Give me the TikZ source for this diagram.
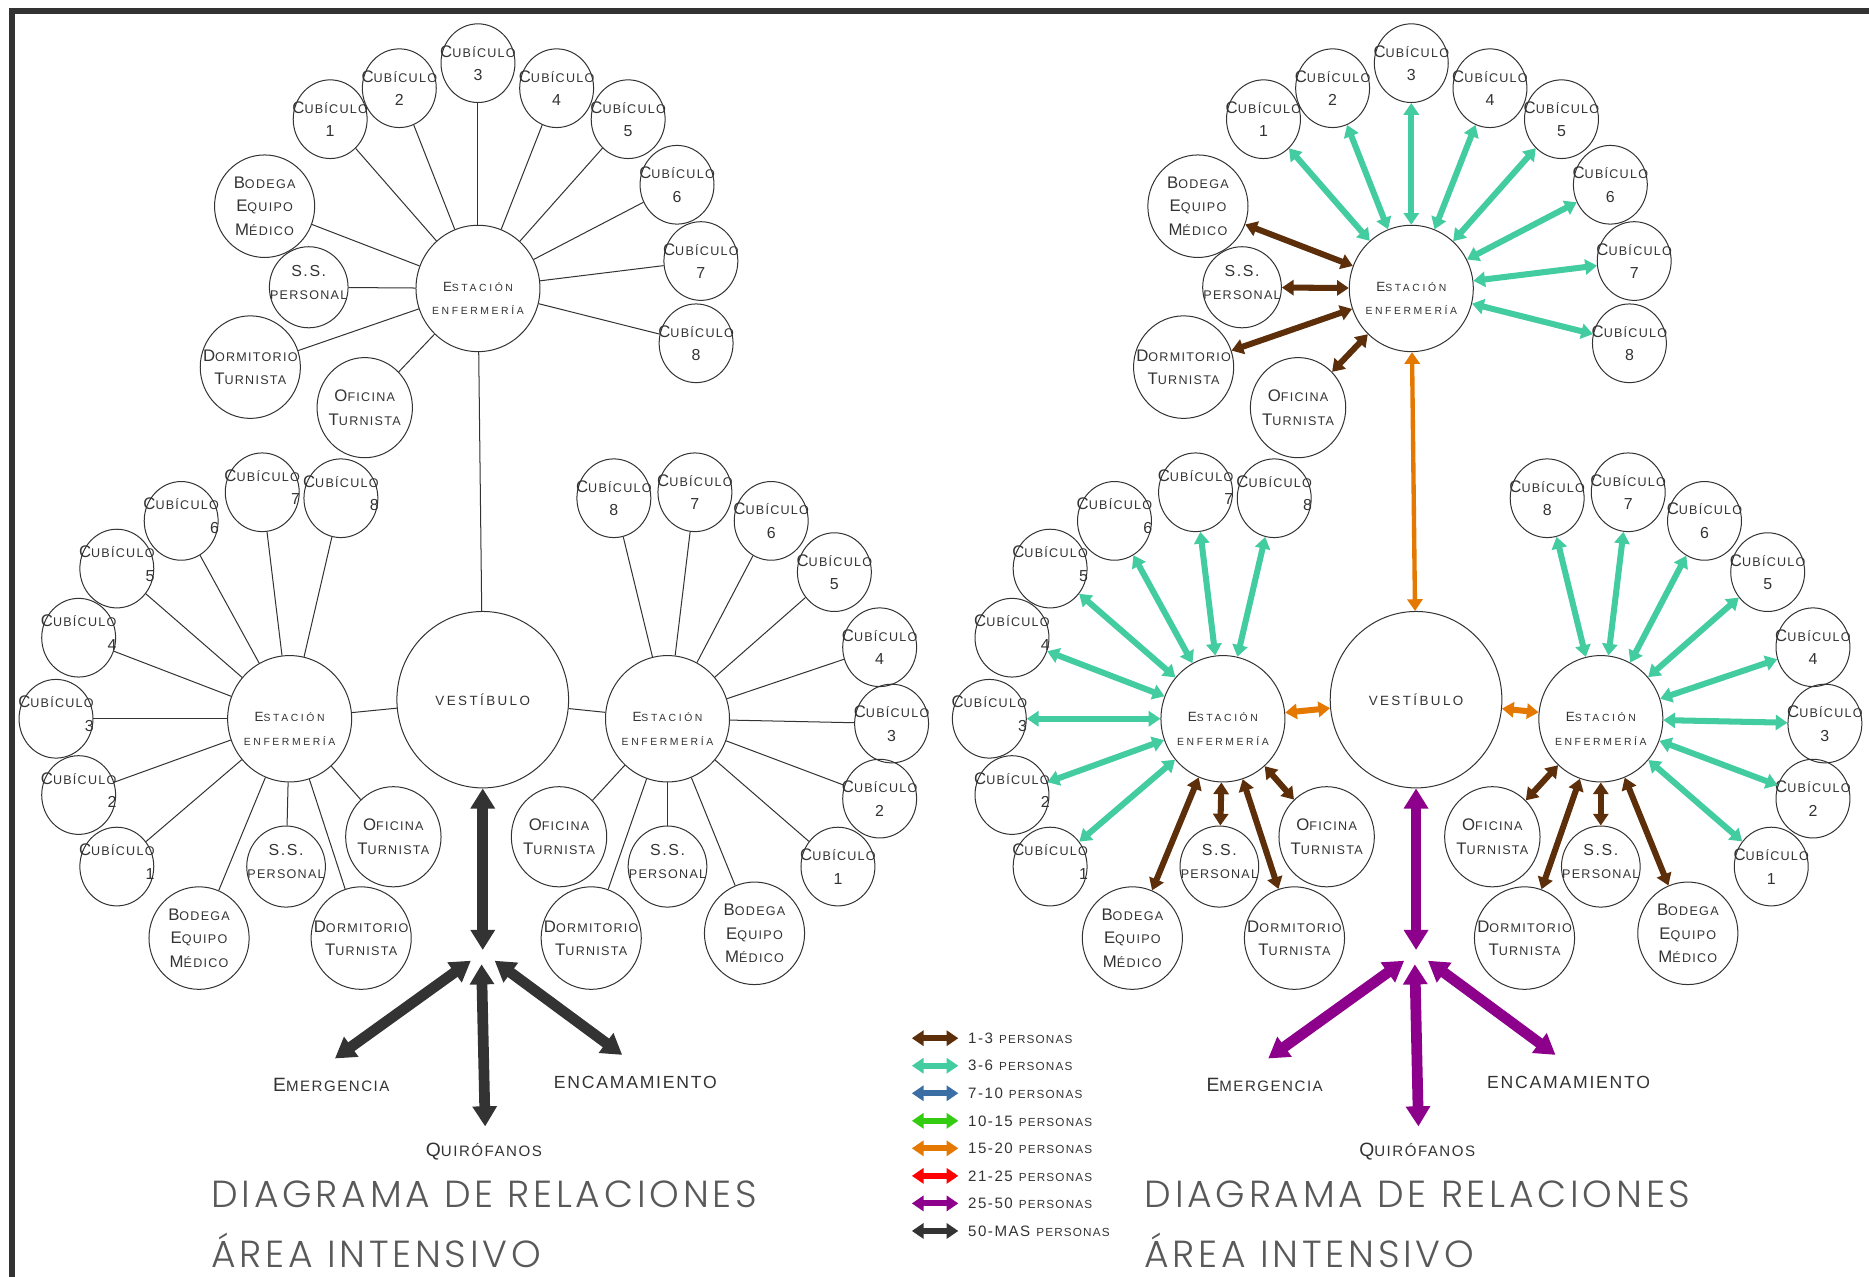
\documentclass[tikz,border=0pt]{standalone}
\usepackage{fontspec}
\setmainfont{Liberation Sans}[LetterSpace=10]
\newfontfamily\titfont{Poppins Light}[LetterSpace=10]
\usetikzlibrary{shapes.geometric,arrows.meta}

\definecolor{tinta}{RGB}{51,51,51}
\definecolor{rbrown}{RGB}{92,46,10}
\definecolor{rteal}{RGB}{66,204,160}
\definecolor{rblue}{RGB}{58,110,165}
\definecolor{rgreen}{RGB}{51,204,17}
\definecolor{rorange}{RGB}{228,120,0}
\definecolor{rred}{RGB}{255,0,0}
\definecolor{rpurple}{RGB}{140,0,140}
\definecolor{rdark}{RGB}{51,51,51}

%% letra grande + resto en versalitas
\newcommand\cad[2]{{\fontsize{10}{14}\selectfont#1}{\fontsize{7.5}{14}\selectfont#2}}
\newcommand\cadp[2]{{\addfontfeature{LetterSpace=25}{\fontsize{8}{14}\selectfont#1}{\fontsize{6.2}{14}\selectfont#2}}}
\newcommand\cadg[2]{{\fontsize{11.5}{14}\selectfont#1}{\fontsize{9}{14}\selectfont#2}}
\newcommand\cubtxt[1]{\cad{C}{UBÍCULO}\\#1}
\newcommand\esttxt{\cadp{E}{STACIÓN}\\{\addfontfeature{LetterSpace=25}\fontsize{6.2}{14}\selectfont ENFERMERÍA}}

%% un plano completo (prefijo de nombres)
\newcommand\plano[1]{%
  %% vestibulo y estaciones
  \node[ves, label={[txt]center:{\addfontfeature{LetterSpace=18}\fontsize{8}{10}\selectfont VESTÍBULO}}] (#1v) at (405,587) {};
  \node[est, label={[txt,yshift=-6pt]center:{\esttxt}}] (#1t) at (401,242) {};
  \node[est, label={[txt,yshift=-6pt]center:{\esttxt}}] (#1a) at (243,603) {};
  \node[est, label={[txt,yshift=-6pt]center:{\esttxt}}] (#1b) at (560,603) {};
  %% cubiculos
  \foreach \n/\x/\y in {1/277/100, 2/335/74, 3/401/53, 4/467/74, 5/527/100, 6/568/155, 7/588/219, 8/584/288}
    \node[cub, label={[txt]center:{\cubtxt{\n}}}] (#1t\n) at (\x,\y) {};
  \foreach \n/\x/\y in {1/98/727, 2/66/667, 3/47/603, 4/66/535, 5/98/477, 6/152/437, 7/220/413, 8/286/418}
    \node[cub, label={[txt,align=right,yshift=3pt]center:{\cubtxt{\n}}}] (#1a\n) at (\x,\y) {};
  \foreach \n/\x/\y in {1/703/727, 2/738/670, 3/748/607, 4/738/543, 5/700/480, 6/647/437, 7/583/413, 8/515/418}
    \node[cub, label={[txt]center:{\cubtxt{\n}}}] (#1b\n) at (\x,\y) {};
  %% servicios
  \foreach \s/\bx/\by/\sx/\sy/\dx/\dy/\ox/\oy in {t/222/173/259/241/210/308/306/342,
      a/167/787/240/727/303/787/330/702, b/633/783/560/727/496/787/469/702}{
    \node[grande, label={[txt]center:{\cad{B}{ODEGA}\\\cad{E}{QUIPO}\\\cad{M}{ÉDICO}}}] (#1\s bo) at (\bx,\by) {};
    \node[ss, label={[txt,yshift=3pt]center:{S.S.\\{\fontsize{7.5}{14}\selectfont PERSONAL}}}] (#1\s ss) at (\sx,\sy) {};
    \node[grande, label={[txt]center:{\cad{D}{ORMITORIO}\\\cad{T}{URNISTA}}}] (#1\s do) at (\dx,\dy) {};
    \node[ofi, label={[txt]center:{\cad{O}{FICINA}\\\cad{T}{URNISTA}}}] (#1\s of) at (\ox,\oy) {};
  }
  %% salidas
  \coordinate (#1jv) at (405,797);
  \coordinate (#1je) at (395,806);
  \coordinate (#1jq) at (404,809);
  \coordinate (#1jn) at (415,806);
  \coordinate (#1e) at (281,888);
  \coordinate (#1q) at (407,945);
  \coordinate (#1n) at (522,885);
  \node[txt] (#1em) at (278,910) {\cadg{E}{MERGENCIA}};
  \node[txt] (#1qu) at (406,966) {\cadg{Q}{UIRÓFANOS}};
  \node[txt] (#1en) at (533,908) {\fontsize{10.5}{12}\selectfont ENCAMAMIENTO};
  %% titulo
  \node[titulo] (#1tit1) at (177,1013) {DIAGRAMA DE RELACIONES};
  \node[titulo] (#1tit2) at (177,1063) {ÁREA INTENSIVO};
}

\begin{document}
\begin{tikzpicture}[x=0.025cm,y=-0.025cm,
    sala/.style={draw=tinta, line width=0.6pt, ellipse, inner sep=0pt},
    cub/.style={sala, minimum width=1.55cm, minimum height=1.65cm},
    grande/.style={sala, minimum width=2.1cm, minimum height=2.15cm},
    ss/.style={sala, minimum width=1.65cm, minimum height=1.7cm},
    ofi/.style={sala, minimum width=2cm, minimum height=2.1cm},
    est/.style={sala, minimum width=2.6cm, minimum height=2.65cm},
    ves/.style={sala, minimum width=3.6cm, minimum height=3.7cm},
    txt/.style={text=tinta, align=center, inner sep=0pt, font=\fontsize{9.5}{14}\selectfont},
    titulo/.style={anchor=base west, inner sep=0pt, text=black!65, font=\titfont\fontsize{22.5}{26}\selectfont},
    lin/.style={draw=tinta, line width=0.6pt},
    rel/.style={line width=3.6pt, {Triangle[width=9pt,length=7pt]}-{Triangle[width=9pt,length=7pt]}},
    fuerte/.style={line width=6.4pt, {Triangle[width=14pt,length=12pt]}-{Triangle[width=14pt,length=12pt]}},
  ]
  \useasboundingbox (0,0) rectangle (1568,1071);
  %% marco
  \draw[tinta, line width=3.6pt] (10,1071) -- (10,9) -- (1568,9);

  %% plano izquierdo: lineas
  \begin{scope}
    \plano{L}
  \end{scope}
  \foreach \s in {t,a,b}{
    \foreach \n in {1,...,8} \draw[lin] (L\s) -- (L\s\n);
    \foreach \n in {bo,ss,do,of} \draw[lin] (L\s) -- (L\s\n);
    \draw[lin] (L\s) -- (Lv);
  }
  \draw[fuerte, rdark] (Lv) -- (Ljv);
  \draw[fuerte, rdark] (Lje) -- (Le);
  \draw[fuerte, rdark] (Ljq) -- (Lq);
  \draw[fuerte, rdark] (Ljn) -- (Ln);

  %% plano derecho: flujos
  \begin{scope}[shift={(783,0)}]
    \plano{R}
  \end{scope}
  \foreach \s in {t,a,b}{
    \foreach \n in {1,...,8} \draw[rel, rteal] (R\s) -- (R\s\n);
    \foreach \n in {bo,ss,do,of} \draw[rel, rbrown] (R\s) -- (R\s\n);
  }
  \draw[rel, rorange, line width=2.6pt] (Rt) -- (Rv);
  \draw[rel, rorange] (Ra) -- (Rv);
  \draw[rel, rorange] (Rb) -- (Rv);
  \draw[fuerte, rpurple] (Rv) -- (Rjv);
  \draw[fuerte, rpurple] (Rje) -- (Re);
  \draw[fuerte, rpurple] (Rjq) -- (Rq);
  \draw[fuerte, rpurple] (Rjn) -- (Rn);

  %% simbologia
  \foreach \c/\t [count=\i from 0] in {rbrown/1-3, rteal/3-6, rblue/7-10, rgreen/10-15,
      rorange/15-20, rred/21-25, rpurple/25-50, rdark/50-MAS}{
    \coordinate (la\i) at (765,{871+23.1*\i});
    \coordinate (lb\i) at (804,{871+23.1*\i});
    \draw[rel, \c] (la\i) -- (lb\i);
    \node[txt, anchor=west] (ley\i) at (812,{871+23.1*\i})
      {{\fontsize{9}{10}\selectfont\t}\ {\fontsize{7}{10}\selectfont PERSONAS}};
  }
\end{tikzpicture}
\end{document}
